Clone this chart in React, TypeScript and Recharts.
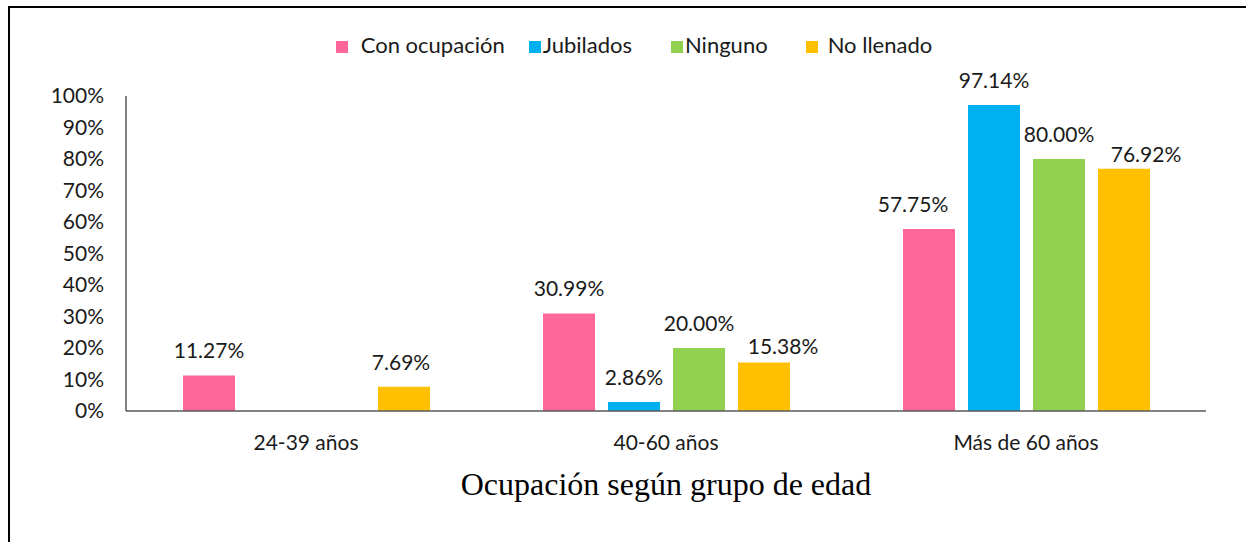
import React from 'react';
import { BarChart, Bar, XAxis, YAxis, Legend, LabelList } from 'recharts';

const categories = ['24-39 años', '40-60 años', 'Más de 60 años'];
const conOcupacion = [11.27, 30.99, 57.75];
const jubilados: (number | null)[] = [null, 2.86, 97.14];
const ninguno: (number | null)[] = [null, 20.0, 80.0];
const noLlenado = [7.69, 15.38, 76.92];
const yTicks = [0, 10, 20, 30, 40, 50, 60, 70, 80, 90, 100];

const data = categories.map((c, i) => ({
  name: c,
  con: conOcupacion[i],
  jub: jubilados[i],
  nin: ninguno[i],
  nol: noLlenado[i],
}));

const FONT = 'Lato, "Noto Sans", sans-serif';
const fmt = (v: any) => (v === null || v === undefined ? '' : `${Number(v).toFixed(2)}%`);

// label nudges (style only): [dx, dy] per category
const series = [
  { key: 'con', name: 'Con ocupación', color: '#FF6699', nudge: [[0, 0], [0, 0], [-16, 0]] },
  { key: 'jub', name: 'Jubilados', color: '#00B0F0', nudge: [[0, 0], [0, 0], [0, 0]] },
  { key: 'nin', name: 'Ninguno', color: '#92D050', nudge: [[0, 0], [0, 0], [10, 0]] },
  { key: 'nol', name: 'No llenado', color: '#FFC000', nudge: [[-3, 0], [19, 8], [22, 10]] },
];

const legendMargins = [
  [9, 14],
  [-2, 29],
  [-2, 28],
  [6, 0],
];

const makeLabel = (nudge: number[][]) => (props: any) => {
  const { x, y, width, value, index } = props;
  if (value === null || value === undefined) return null;
  const [dx, dy] = nudge[index] || [0, 0];
  return (
    <text
      x={Number(x) + Number(width) / 2 + dx}
      y={Number(y) - 17 + dy}
      textAnchor="middle"
      fill="#1a1a1a"
      fontSize={21}
      fontFamily={FONT}
    >
      {fmt(value)}
    </text>
  );
};

export default function App() {
  return (
    <div style={{ position: 'fixed', left: 0, top: 0, width: 1246, height: 542, background: '#fff', overflow: 'hidden' }}>
      <div style={{ position: 'absolute', left: 8, top: 6, width: 1300, height: 600, borderLeft: '2px solid #000', borderTop: '2px solid #000' }} />
      <div style={{ position: 'absolute', left: 0, top: 0 }}>
        <BarChart
          width={1246}
          height={542}
          data={data}
          margin={{ top: 69, right: 40, bottom: 101, left: 66 }}
          barSize={52}
          barGap={13}
          style={{ fontFamily: FONT }}
        >
          <Legend
            verticalAlign="top"
            align="center"
            iconType="square"
            iconSize={12}
            wrapperStyle={{ top: 31, left: 16, width: 1246, fontSize: 22, fontFamily: FONT }}
            formatter={(value: any, _entry: any, index: number) => {
              const m = legendMargins[index] || [0, 0];
              return <span style={{ color: '#1a1a1a', marginLeft: m[0], marginRight: m[1] }}>{value}</span>;
            }}
          />
          <XAxis
            dataKey="name"
            axisLine={{ stroke: '#595959', strokeWidth: 1.5 }}
            tickLine={false}
            height={30}
            tickMargin={18}
            tick={{ fill: '#1a1a1a', fontSize: 21, fontFamily: FONT }}
          />
          <YAxis
            domain={[0, 100]}
            ticks={yTicks}
            interval={0}
            width={60}
            axisLine={{ stroke: '#595959', strokeWidth: 1.5 }}
            tickLine={false}
            tickSize={0}
            tickMargin={22}
            tickFormatter={(v: number) => `${v}%`}
            tick={{ fill: '#1a1a1a', fontSize: 21, fontFamily: FONT }}
          />
          {series.map((s) => (
            <Bar key={s.key} dataKey={s.key} name={s.name} fill={s.color} isAnimationActive={false}>
              <LabelList dataKey={s.key} content={makeLabel(s.nudge)} />
            </Bar>
          ))}
        </BarChart>
      </div>
      <div
        style={{
          position: 'absolute',
          left: 126,
          width: 1080,
          top: 466,
          textAlign: 'center',
          fontFamily: '"Liberation Serif", "Times New Roman", serif',
          fontSize: 32,
          color: '#000',
        }}
      >
        Ocupación según grupo de edad
      </div>
    </div>
  );
}
